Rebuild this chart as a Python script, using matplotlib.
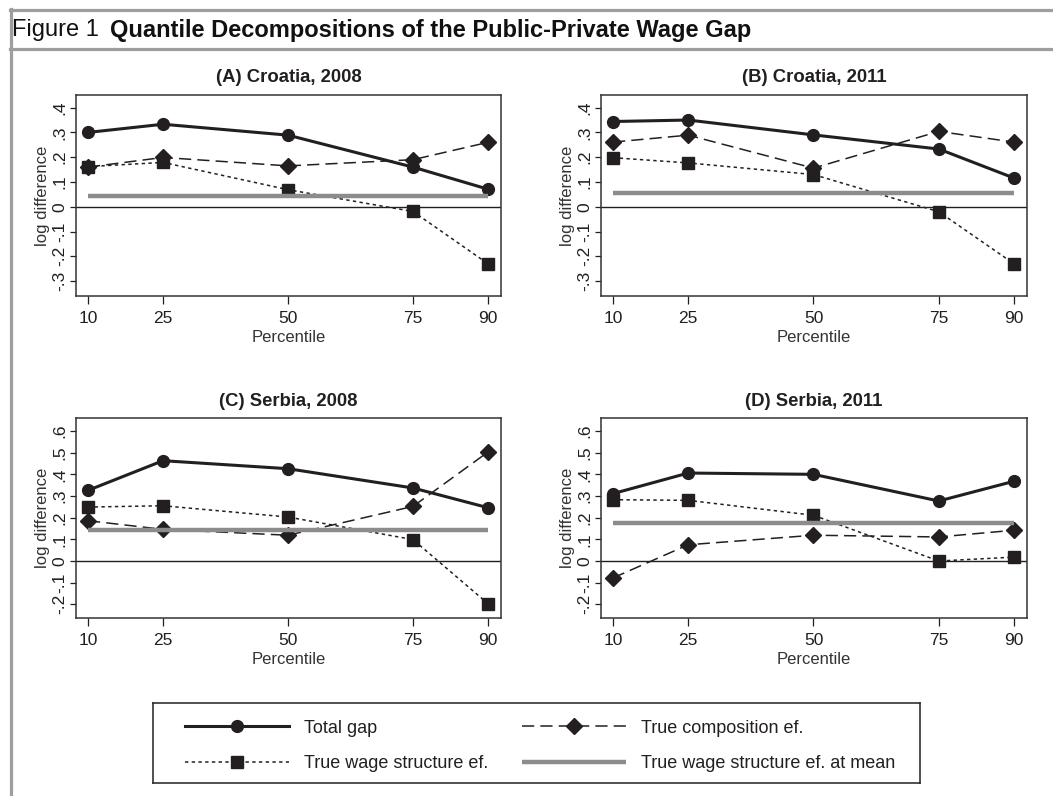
import numpy as np
import matplotlib
matplotlib.use("Agg")
import matplotlib.pyplot as plt
from matplotlib.lines import Line2D
from matplotlib.ticker import FixedLocator, FuncFormatter

plt.rcParams['font.family'] = ['Liberation Sans', 'DejaVu Sans']

# ---------------- data ----------------
percentiles = [10, 25, 50, 75, 90]
panel_titles = ["(A) Croatia, 2008", "(B) Croatia, 2011",
                "(C) Serbia, 2008", "(D) Serbia, 2011"]

total_A = [0.300, 0.333, 0.289, 0.160, 0.071]
comp_A = [0.160, 0.199, 0.165, 0.190, 0.260]
wage_A = [0.162, 0.179, 0.069, -0.019, -0.230]
mean_A = 0.042

total_B = [0.344, 0.350, 0.290, 0.233, 0.116]
comp_B = [0.261, 0.289, 0.156, 0.304, 0.261]
wage_B = [0.198, 0.177, 0.130, -0.020, -0.230]
mean_B = 0.055

total_C = [0.326, 0.463, 0.426, 0.337, 0.246]
comp_C = [0.186, 0.146, 0.119, 0.252, 0.503]
wage_C = [0.249, 0.255, 0.203, 0.099, -0.197]
mean_C = 0.145

total_D = [0.311, 0.406, 0.400, 0.277, 0.368]
comp_D = [-0.078, 0.075, 0.119, 0.111, 0.142]
wage_D = [0.283, 0.280, 0.211, 0.000, 0.018]
mean_D = 0.177

yticks_croatia = [-0.3, -0.2, -0.1, 0.0, 0.1, 0.2, 0.3, 0.4]
yticks_serbia = [-0.2, -0.1, 0.0, 0.1, 0.2, 0.3, 0.4, 0.5, 0.6]

series_labels = ["Total gap", "True composition ef.",
                 "True wage structure ef.", "True wage structure ef. at mean"]
header_prefix = "Figure 1"
header_title = "Quantile Decompositions of the Public-Private Wage Gap"

# ---------------- styling ----------------
W, H = 1053, 796
DARK = "#231f20"
GRAY = "#8c8c8c"
FRAME = "#9e9e9e"

fig = plt.figure(figsize=(W / 100, H / 100), dpi=100)
fig.patch.set_facecolor("white")


def px_axes(left, top, right, bottom):
    return fig.add_axes([left / W, 1 - bottom / H, (right - left) / W, (bottom - top) / H])


def fmt(v, pos):
    s = "%g" % round(v, 3)
    return s.replace("0.", ".")


panels = [
    (px_axes(76, 95, 501, 296), total_A, comp_A, wage_A, mean_A, yticks_croatia, (-0.36, 0.451)),
    (px_axes(601, 95, 1027, 296), total_B, comp_B, wage_B, mean_B, yticks_croatia, (-0.36, 0.451)),
    (px_axes(76, 418, 501, 618), total_C, comp_C, wage_C, mean_C, yticks_serbia, (-0.263, 0.66)),
    (px_axes(601, 418, 1027, 618), total_D, comp_D, wage_D, mean_D, yticks_serbia, (-0.263, 0.66)),
]

handles = None
for (ax, tot, comp, wage, mean, yt, ylim), title in zip(panels, panel_titles):
    ax.axhline(0, color=DARK, lw=1.0, zorder=1)
    h1, = ax.plot(percentiles, tot, color=DARK, lw=2.2, marker="o", ms=8.5,
                  zorder=3, label=series_labels[0])
    h2, = ax.plot(percentiles, comp, color=DARK, lw=1.1, marker="D", ms=8,
                  dashes=(8, 4), zorder=3, label=series_labels[1])
    h3, = ax.plot(percentiles, wage, color=DARK, lw=1.1, marker="s", ms=8,
                  dashes=(2.2, 2.2), zorder=3, label=series_labels[2])
    h4, = ax.plot(percentiles, np.full(len(percentiles), mean), color=GRAY,
                  lw=3.2, zorder=4, solid_capstyle="butt", label=series_labels[3])
    if handles is None:
        handles = [h1, h2, h3, h4]
    ax.set_xlim(7.6, 92.6)
    ax.set_ylim(*ylim)
    ax.xaxis.set_major_locator(FixedLocator(percentiles))
    ax.yaxis.set_major_locator(FixedLocator(yt))
    ax.yaxis.set_major_formatter(FuncFormatter(fmt))
    ax.tick_params(axis="y", labelrotation=90, length=4.5, width=0.9, pad=1.5,
                   labelsize=12.5, colors=DARK)
    ax.tick_params(axis="x", length=6, width=0.9, pad=5, labelsize=12.5, colors=DARK)
    for lab in ax.get_yticklabels():
        lab.set_va("center")
    for sp in ax.spines.values():
        sp.set_color("#333333")
        sp.set_linewidth(1.1)
    ax.set_xlabel("Percentile", fontsize=12, color="#333333", labelpad=3)
    ax.set_ylabel("log difference", fontsize=12, color="#333333", labelpad=2)
    ax.set_title(title, fontsize=13.3, fontweight="bold", color=DARK, pad=9)

# legend box (frame drawn as an empty axes), entries in row-major order
box = px_axes(153, 703, 920, 783)
box.set_xticks([])
box.set_yticks([])
for sp in box.spines.values():
    sp.set_color(DARK)
    sp.set_linewidth(1.1)
order = [0, 2, 1, 3]
leg = box.legend([handles[i] for i in order], [series_labels[i] for i in order],
                 ncol=2, loc="center", bbox_to_anchor=(0.5 + 3.5 / 767, 0.5 - 3 / 80),
                 frameon=False, fontsize=13, handlelength=5.75, handletextpad=0.85,
                 columnspacing=1.85, labelspacing=1.02, borderpad=0.0, numpoints=1)
for t in leg.get_texts():
    t.set_color(DARK)

# header frame
fig.add_artist(Line2D([10 / W, 1], [1 - 10 / H, 1 - 10 / H], color=FRAME, lw=2.3,
                      transform=fig.transFigure))
fig.add_artist(Line2D([10 / W, 1], [1 - 48.5 / H, 1 - 48.5 / H], color=FRAME, lw=2.3,
                      transform=fig.transFigure))
fig.add_artist(Line2D([10.5 / W, 10.5 / W], [1 - 9 / H, 0], color=FRAME, lw=2.3,
                      transform=fig.transFigure))
fig.text(12 / W, 1 - 30 / H, header_prefix, fontsize=17, color="#111111", va="center", ha="left")
fig.text(110 / W, 1 - 30 / H, header_title, fontsize=17, fontweight="bold",
         color="#111111", va="center", ha="left")

fig.savefig("out.png", dpi=100, facecolor="white")
